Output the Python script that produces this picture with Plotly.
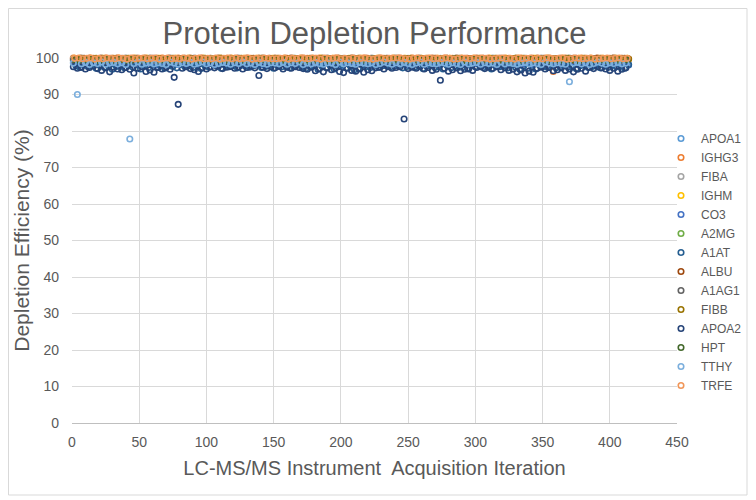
import plotly.graph_objects as go

# Acquisition iterations (each series sampled every 3rd run, at different offsets)
ITER_A = list(range(1, 414, 3))
ITER_B = list(range(2, 415, 3))
ITER_C = list(range(3, 415, 3))

APOA1 = [98.7, 98.4, 98.9, 98.5, 99.0, 98.3, 98.8, 98.6, 99.1, 98.4,
         98.9, 98.5, 98.7, 99.0, 98.3, 98.8, 98.6, 98.4, 99.0, 98.7,
         98.5, 98.9, 98.3, 98.8, 98.6, 99.1, 98.4, 98.7, 98.9, 98.5,
         99.0, 98.6, 98.4, 98.8, 98.7, 98.3, 99.0, 98.5, 98.9, 98.6,
         98.4, 98.8, 99.1, 98.5, 98.7, 98.9, 98.3, 98.6, 99.0, 98.4,
         98.8, 98.5, 98.7, 99.0, 98.6, 98.3, 98.9, 98.4, 98.8, 98.7,
         99.1, 98.5, 98.6, 98.9, 98.4, 98.8, 98.7, 99.0, 98.3, 98.6,
         98.9, 98.4, 98.8, 98.5, 99.0, 98.7, 98.3, 98.9, 98.6, 98.4,
         98.8, 99.1, 98.5, 98.7, 98.4, 98.9, 98.6, 99.0, 98.3, 98.8,
         98.5, 98.7, 98.9, 98.4, 98.6, 99.0, 98.8, 98.3, 98.7, 98.5,
         98.9, 98.6, 98.4, 99.1, 98.7, 98.5, 98.8, 98.9, 98.3, 98.6,
         99.0, 98.4, 98.7, 98.8, 98.5, 98.9, 98.3, 98.6, 99.0, 98.7,
         98.4, 98.8, 98.5, 98.9, 98.6, 99.1, 98.4, 98.7, 98.8, 98.5,
         98.9, 98.6, 98.3, 98.8, 98.7, 99.0, 98.5, 98.6]

IGHG3 = [100.0, 99.8, 99.9, 99.7, 100.0, 99.9, 99.8, 99.9, 100.0, 99.7,
         99.9, 100.0, 99.8, 99.9, 99.7, 100.0, 99.9, 99.8, 100.0, 99.9,
         99.8, 99.9, 100.0, 99.7, 99.9, 99.8, 100.0, 99.9, 99.8, 100.0,
         99.7, 99.9, 100.0, 99.8, 99.9, 99.7, 100.0, 99.8, 99.9, 100.0,
         99.9, 99.8, 99.7, 100.0, 99.9, 99.8, 100.0, 99.9, 99.7, 99.8,
         100.0, 99.9, 99.8, 99.9, 100.0, 99.7, 99.8, 100.0, 99.9, 99.8,
         99.9, 100.0, 99.7, 99.9, 99.8, 100.0, 99.9, 99.7, 99.8, 100.0,
         99.8, 99.9, 100.0, 99.9, 99.7, 99.8, 100.0, 99.9, 99.8, 99.9,
         99.7, 100.0, 99.9, 99.8, 100.0, 99.9, 99.7, 99.8, 99.9, 100.0,
         99.9, 99.8, 100.0, 99.7, 99.9, 100.0, 99.8, 99.9, 99.7, 99.8,
         100.0, 99.9, 99.8, 100.0, 99.7, 99.9, 99.8, 100.0, 99.9, 99.8,
         99.9, 100.0, 99.7, 99.8, 99.9, 100.0, 99.8, 99.9, 100.0, 96.3,
         99.8, 99.9, 100.0, 99.7, 99.9, 99.8, 100.0, 99.9, 99.7, 99.8,
         100.0, 99.9, 99.8, 99.9, 100.0, 99.7, 99.9, 99.8]

FIBA = [99.8, 99.6, 100.0, 99.7, 99.9, 99.6, 99.8, 100.0, 99.7, 99.9,
        99.6, 99.8, 99.9, 100.0, 99.7, 99.6, 99.9, 99.8, 99.7, 100.0,
        99.9, 99.7, 99.6, 99.8, 100.0, 99.9, 99.7, 99.6, 99.8, 99.9,
        100.0, 99.8, 99.7, 99.6, 99.9, 99.8, 100.0, 99.7, 99.6, 99.9,
        99.7, 100.0, 99.8, 99.9, 99.6, 99.7, 99.9, 100.0, 99.8, 99.6,
        99.9, 99.7, 99.8, 99.6, 100.0, 99.9, 99.7, 99.8, 99.6, 99.9,
        99.8, 99.6, 99.9, 100.0, 99.7, 99.8, 99.6, 99.9, 99.7, 100.0,
        99.6, 99.9, 99.7, 99.8, 100.0, 99.6, 99.8, 99.7, 99.9, 99.6,
        100.0, 99.7, 99.8, 99.9, 99.6, 99.7, 100.0, 99.8, 99.6, 99.9,
        99.7, 99.9, 99.6, 99.8, 99.7, 100.0, 99.9, 99.6, 99.8, 99.7,
        99.9, 99.8, 99.7, 99.6, 100.0, 99.8, 99.9, 99.7, 99.6, 99.8,
        99.7, 99.6, 99.9, 99.8, 99.7, 99.9, 100.0, 99.6, 99.8, 99.7,
        99.6, 99.8, 99.7, 100.0, 99.9, 99.6, 99.7, 99.8, 99.9, 99.6,
        99.9, 99.7, 99.6, 99.8, 100.0, 99.7, 99.9, 99.8]

IGHM = [99.9, 99.7, 99.8, 99.6, 99.9, 99.8, 99.7, 99.9, 99.6, 99.8,
        99.7, 99.9, 99.8, 99.6, 99.7, 99.9, 99.8, 99.7, 99.9, 99.6,
        99.8, 99.9, 99.7, 99.8, 99.6, 99.9, 99.7, 99.8, 99.9, 99.7,
        99.6, 99.8, 99.9, 99.7, 99.8, 99.6, 99.9, 99.8, 99.7, 99.9,
        99.8, 99.7, 99.9, 99.6, 99.8, 99.9, 99.7, 99.8, 99.6, 99.9,
        99.7, 99.8, 99.9, 99.7, 99.6, 99.8, 99.9, 99.7, 99.8, 99.9,
        99.6, 99.9, 99.7, 99.8, 99.9, 99.7, 99.6, 99.8, 99.9, 99.7,
        99.8, 99.9, 99.6, 99.7, 99.8, 99.9, 99.7, 99.8, 99.6, 99.9,
        99.7, 99.8, 99.9, 99.6, 99.8, 99.7, 99.9, 99.8, 99.7, 99.6,
        99.9, 99.8, 99.7, 99.9, 99.6, 99.8, 99.9, 99.7, 99.8, 99.9,
        99.7, 99.6, 99.8, 99.9, 99.7, 99.8, 99.6, 99.9, 99.7, 99.8,
        99.9, 99.7, 99.8, 99.6, 99.9, 99.8, 99.7, 99.9, 99.6, 99.8,
        99.7, 99.9, 99.8, 99.7, 99.6, 99.9, 99.8, 99.7, 99.9, 99.8,
        99.6, 99.9, 99.7, 99.8, 99.9, 99.7, 99.8, 99.9]

CO3 = [98.4, 98.1, 98.6, 97.9, 98.3, 98.7, 98.0, 98.5, 98.2, 98.8,
       98.3, 97.8, 98.6, 98.1, 98.4, 98.7, 98.0, 98.5, 98.2, 98.9,
       98.1, 98.6, 98.3, 97.9, 98.5, 98.2, 98.7, 98.0, 98.4, 98.6,
       98.2, 98.8, 98.0, 98.5, 98.3, 97.9, 98.6, 98.1, 98.4, 98.7,
       98.5, 98.0, 98.3, 98.8, 98.1, 98.6, 98.2, 97.9, 98.4, 98.7,
       98.0, 98.5, 98.2, 98.6, 97.8, 98.3, 98.7, 98.1, 98.4, 98.0,
       98.6, 98.2, 98.8, 98.0, 98.5, 98.3, 97.9, 98.6, 98.1, 98.4,
       98.7, 98.0, 98.5, 98.2, 98.8, 98.1, 98.4, 97.9, 98.6, 98.3,
       98.0, 98.5, 98.2, 98.7, 98.4, 98.1, 98.6, 97.8, 98.3, 98.5,
       98.2, 98.7, 98.0, 98.4, 98.6, 98.1, 98.8, 98.3, 97.9, 98.5,
       98.4, 98.0, 98.6, 98.2, 98.7, 97.9, 98.3, 98.5, 98.1, 98.6,
       98.0, 98.4, 98.7, 98.2, 98.5, 98.1, 98.8, 97.9, 98.3, 98.6,
       98.2, 98.5, 98.0, 98.7, 98.3, 98.1, 98.6, 98.4, 97.9, 98.5,
       98.7, 98.2, 98.4, 98.0, 98.6, 98.3, 98.5, 98.1]

A2MG = [99.5, 99.7, 99.4, 99.8, 99.6, 99.3, 99.7, 99.5, 99.8, 99.6,
        99.4, 99.7, 99.5, 99.8, 99.3, 99.6, 99.7, 99.4, 99.8, 99.5,
        99.6, 99.3, 99.7, 99.5, 99.8, 99.4, 99.6, 99.7, 99.3, 99.8,
        99.5, 99.6, 99.4, 99.7, 99.8, 99.5, 99.3, 99.6, 99.7, 99.4,
        99.8, 99.5, 99.6, 99.3, 99.7, 99.4, 99.8, 99.5, 99.6, 99.7,
        99.3, 99.8, 99.5, 99.4, 99.6, 99.7, 99.5, 99.8, 99.3, 99.6,
        99.4, 99.7, 99.6, 99.5, 99.8, 99.3, 99.7, 99.4, 99.6, 99.5,
        99.8, 99.6, 99.3, 99.7, 99.5, 99.4, 99.8, 99.6, 99.7, 99.3,
        99.5, 99.8, 99.4, 99.6, 99.7, 99.5, 99.3, 99.8, 99.6, 99.4,
        99.7, 99.5, 99.8, 99.3, 99.6, 99.7, 99.4, 99.5, 99.8, 99.6,
        99.3, 99.7, 99.5, 99.6, 99.4, 99.8, 99.7, 99.3, 99.5, 99.6,
        99.8, 99.4, 99.6, 99.7, 99.5, 99.3, 99.8, 99.6, 99.4, 99.7,
        99.5, 99.6, 99.8, 99.3, 99.7, 99.5, 99.4, 99.6, 99.8, 99.7,
        99.3, 99.5, 99.7, 99.6, 99.4, 99.8, 99.5, 99.6]

A1AT = [97.8, 97.4, 98.1, 97.6, 98.3, 97.2, 97.9, 97.5, 98.0, 96.9,
        97.7, 98.2, 97.3, 97.9, 97.6, 98.1, 97.0, 97.8, 97.4, 98.3,
        97.5, 97.9, 97.2, 98.0, 97.7, 97.3, 98.2, 97.6, 97.9, 97.4,
        98.1, 97.1, 97.8, 97.5, 98.3, 97.7, 97.2, 98.0, 97.6, 97.9,
        97.3, 98.2, 97.8, 97.5, 97.9, 98.1, 97.4, 97.7, 98.3, 97.2,
        97.9, 97.6, 98.0, 97.3, 97.8, 98.2, 97.5, 97.1, 97.7, 98.0,
        96.9, 97.8, 97.4, 98.1, 97.0, 97.6, 98.2, 97.3, 97.9, 96.8,
        97.2, 98.0, 97.7, 97.4, 98.1, 97.5, 97.9, 98.3, 97.6, 97.8,
        98.0, 97.3, 97.7, 98.2, 97.5, 97.9, 97.1, 97.8, 98.1, 97.4,
        97.6, 97.0, 98.0, 97.3, 97.8, 97.5, 98.2, 97.2, 97.9, 97.6,
        98.1, 97.4, 97.8, 97.0, 98.0, 97.6, 97.9, 97.3, 98.2, 97.5,
        96.9, 97.8, 97.2, 97.6, 97.0, 98.1, 97.7, 97.4, 98.0, 97.3,
        97.6, 98.1, 97.5, 97.8, 97.1, 97.9, 98.2, 97.4, 97.7, 98.0,
        97.3, 97.8, 97.5, 98.1, 97.6, 97.9, 97.2, 98.2]

ALBU = [99.8, 99.6, 99.9, 99.7, 99.8, 99.5, 99.9, 99.7, 99.6, 99.8,
        99.9, 99.7, 99.6, 99.8, 99.5, 99.9, 99.7, 99.8, 99.6, 99.9,
        99.7, 99.8, 99.5, 99.9, 99.6, 99.8, 99.7, 99.9, 99.5, 99.8,
        99.6, 99.9, 99.7, 99.8, 99.6, 99.5, 99.9, 99.7, 99.8, 99.6,
        99.9, 99.8, 99.7, 99.5, 99.9, 99.6, 99.8, 99.7, 99.9, 99.6,
        99.8, 99.5, 99.9, 99.7, 99.6, 99.8, 99.9, 99.7, 99.5, 99.8,
        99.7, 99.9, 99.6, 99.8, 99.5, 99.9, 99.7, 99.6, 99.8, 99.9,
        99.6, 99.8, 99.9, 99.5, 99.7, 99.8, 99.6, 99.9, 99.7, 99.8,
        99.9, 99.5, 99.8, 99.7, 99.6, 99.9, 99.8, 99.5, 99.7, 99.9,
        99.8, 99.6, 99.9, 99.7, 99.8, 99.5, 99.6, 99.9, 99.8, 99.7,
        99.6, 99.9, 99.8, 99.5, 99.7, 99.9, 99.6, 99.8, 99.7, 99.9,
        99.5, 99.8, 99.7, 99.9, 99.6, 99.8, 99.9, 99.5, 99.7, 99.8,
        99.9, 99.7, 99.6, 99.8, 99.9, 99.5, 99.7, 99.8, 99.6, 99.9,
        99.8, 99.7, 99.5, 99.9, 99.6, 99.8, 99.9, 99.7]

A1AG1 = [99.4, 99.6, 99.3, 99.7, 99.5, 99.8, 99.4, 99.6, 99.2, 99.7,
         99.5, 99.3, 99.8, 99.6, 99.4, 99.7, 99.5, 99.2, 99.6, 99.8,
         99.3, 99.7, 99.5, 99.4, 99.8, 99.6, 99.2, 99.7, 99.5, 99.3,
         99.6, 99.8, 99.4, 99.7, 99.2, 99.5, 99.6, 99.8, 99.3, 99.7,
         99.4, 99.6, 99.5, 99.8, 99.3, 99.7, 99.2, 99.6, 99.4, 99.5,
         99.8, 99.3, 99.7, 99.6, 99.4, 99.5, 99.8, 99.2, 99.7, 99.6,
         99.3, 99.5, 99.8, 99.4, 99.7, 99.6, 99.2, 99.5, 99.8, 99.3,
         99.7, 99.4, 99.6, 99.5, 99.8, 99.2, 99.7, 99.4, 99.6, 99.3,
         99.5, 99.8, 99.6, 99.3, 99.7, 99.4, 99.5, 99.8, 99.2, 99.6,
         99.7, 99.3, 99.5, 99.8, 99.4, 99.6, 99.7, 99.2, 99.5, 99.8,
         99.3, 99.6, 99.4, 99.7, 99.8, 99.5, 99.3, 99.6, 99.7, 99.2,
         99.8, 99.5, 99.4, 99.6, 99.3, 99.7, 99.8, 99.5, 99.2, 99.6,
         99.4, 99.7, 99.5, 99.8, 99.3, 99.6, 99.4, 99.7, 99.5, 99.8,
         99.2, 99.6, 99.7, 99.4, 99.5, 99.8, 99.3, 99.6]

FIBB = [99.7, 99.9, 99.6, 99.8, 99.7, 99.9, 99.5, 99.8, 99.6, 99.9,
        99.8, 99.6, 99.7, 99.9, 99.8, 99.5, 99.7, 99.9, 99.6, 99.8,
        99.9, 99.7, 99.8, 99.6, 99.9, 99.7, 99.5, 99.8, 99.9, 99.6,
        99.8, 99.7, 99.9, 99.5, 99.6, 99.8, 99.9, 99.7, 99.6, 99.8,
        99.7, 99.9, 99.6, 99.8, 99.7, 99.5, 99.9, 99.8, 99.6, 99.7,
        99.9, 99.6, 99.8, 99.7, 99.9, 99.5, 99.8, 99.6, 99.9, 99.7,
        99.8, 99.9, 99.7, 99.6, 99.8, 99.9, 99.5, 99.7, 99.8, 99.6,
        99.9, 99.7, 99.8, 99.6, 99.5, 99.9, 99.8, 99.7, 99.6, 99.9,
        99.7, 99.8, 99.6, 99.9, 99.7, 99.5, 99.8, 99.9, 99.6, 99.7,
        99.8, 99.6, 99.9, 99.7, 99.8, 99.9, 99.5, 99.6, 99.8, 99.7,
        99.9, 99.8, 99.6, 99.7, 99.9, 99.5, 99.8, 99.7, 99.6, 99.9,
        99.7, 99.9, 99.8, 99.6, 99.7, 99.8, 99.5, 99.9, 99.7, 99.6,
        99.8, 99.7, 99.9, 99.6, 99.8, 99.5, 99.9, 99.7, 99.8, 99.6,
        99.9, 99.8, 99.6, 99.7, 99.9, 99.8, 99.5, 99.7]

APOA2 = [97.6, 97.2, 97.5, 97.0, 97.4, 97.8, 97.1, 96.6, 97.3, 96.2,
         97.5, 97.0, 96.8, 97.4, 96.9, 95.9, 97.2, 97.6, 96.3, 96.7,
         96.1, 97.4, 97.0, 97.5, 96.9, 94.7, 87.3, 97.2, 97.6, 97.1,
         96.8, 96.3, 97.4, 97.0, 97.6, 97.3, 97.8, 97.1, 97.5, 97.7,
         97.2, 97.6, 97.0, 97.4, 97.8, 97.3, 95.2, 97.5, 97.1, 97.6,
         97.3, 97.7, 97.0, 97.5, 97.2, 97.6, 97.4, 97.1, 96.9, 97.5,
         96.5, 97.1, 96.2, 97.3, 96.8, 97.4, 96.3, 96.0, 97.2, 96.6,
         96.4, 97.0, 96.1, 96.8, 96.5, 97.3, 97.5, 97.0, 97.6, 97.2,
         97.4, 97.6, 83.3, 97.1, 97.5, 97.2, 97.7, 97.0, 97.4, 96.6,
         96.9, 93.9, 97.2, 96.4, 96.8, 97.3, 96.5, 96.9, 97.0, 96.6,
         97.4, 97.6, 97.1, 97.5, 97.2, 97.6, 96.8, 97.3, 96.6, 96.9,
         96.2, 96.7, 95.9, 96.4, 96.1, 97.2, 97.5, 97.0, 97.4, 96.5,
         96.8, 97.3, 96.6, 97.0, 96.2, 96.9, 97.2, 96.4, 97.5, 97.1,
         97.6, 97.3, 97.0, 96.6, 97.2, 96.4, 96.9, 97.3]

HPT = [99.6, 99.4, 99.7, 99.5, 99.8, 99.6, 99.3, 99.7, 99.5, 99.8,
       99.4, 99.6, 99.7, 99.3, 99.5, 99.8, 99.6, 99.4, 99.7, 99.5,
       99.8, 99.3, 99.6, 99.7, 99.4, 99.5, 99.8, 99.6, 99.3, 99.7,
       99.5, 99.4, 99.8, 99.6, 99.7, 99.3, 99.5, 99.8, 99.4, 99.6,
       99.7, 99.5, 99.3, 99.8, 99.6, 99.4, 99.7, 99.5, 99.8, 99.3,
       99.6, 99.7, 99.4, 99.5, 99.8, 99.6, 99.3, 99.7, 99.4, 99.5,
       99.8, 99.6, 99.7, 99.3, 99.5, 99.4, 99.8, 99.6, 99.7, 99.5,
       99.3, 99.8, 99.4, 99.6, 99.7, 99.5, 99.3, 99.8, 99.6, 99.4,
       99.7, 99.5, 99.8, 99.3, 99.6, 99.7, 99.4, 99.5, 99.8, 99.6,
       99.3, 99.7, 99.5, 99.4, 99.8, 99.6, 99.7, 99.3, 99.5, 99.8,
       99.4, 99.6, 99.7, 99.5, 99.3, 99.8, 99.6, 99.4, 99.7, 99.5,
       99.8, 99.3, 99.6, 99.7, 99.4, 99.5, 99.8, 99.6, 99.3, 99.7,
       99.5, 99.4, 99.8, 99.6, 99.7, 99.3, 99.5, 99.8, 99.4, 99.6,
       99.7, 99.5, 99.3, 99.8, 99.6, 99.4, 99.7, 99.5]

TTHY = [98.6, 90.0, 98.4, 98.8, 98.2, 98.7, 98.5, 98.9, 98.3, 98.6,
        98.8, 98.4, 98.7, 98.2, 77.8, 98.5, 98.9, 98.3, 98.6, 98.8,
        98.4, 98.7, 98.5, 98.2, 98.9, 98.6, 98.3, 98.7, 98.5, 98.8,
        98.3, 98.6, 98.9, 98.4, 98.7, 98.2, 98.5, 98.8, 98.6, 98.3,
        98.7, 98.5, 98.9, 98.4, 98.6, 98.2, 98.8, 98.5, 98.3, 98.7,
        98.6, 98.4, 98.8, 98.3, 98.7, 98.5, 98.9, 98.2, 98.6, 98.4,
        98.8, 98.5, 98.3, 98.7, 98.6, 98.2, 98.9, 98.4, 98.7, 98.5,
        98.3, 98.8, 98.6, 98.4, 98.7, 98.2, 98.5, 98.9, 98.6, 98.3,
        98.7, 98.4, 98.8, 98.5, 98.2, 98.6, 98.9, 98.3, 98.7, 98.5,
        98.4, 98.8, 98.6, 98.3, 98.7, 98.5, 98.2, 98.9, 98.4, 98.6,
        98.8, 98.3, 98.7, 98.5, 98.6, 98.2, 98.9, 98.4, 98.7, 98.5,
        98.3, 98.6, 98.8, 98.4, 98.7, 98.5, 98.2, 98.9, 98.6, 98.4,
        98.7, 98.5, 98.3, 93.5, 98.6, 98.8, 98.4, 98.7, 98.2, 98.5,
        98.9, 98.6, 98.3, 98.7, 98.5, 98.8, 98.4, 98.6]

TRFE = [99.9, 100.0, 99.8, 99.9, 100.0, 99.7, 99.9, 99.8, 100.0, 99.9,
        99.8, 100.0, 99.9, 99.7, 100.0, 99.8, 99.9, 100.0, 99.8, 99.9,
        100.0, 99.7, 99.9, 100.0, 99.8, 99.9, 99.8, 100.0, 99.9, 99.7,
        99.9, 100.0, 99.8, 99.9, 99.8, 100.0, 99.7, 99.9, 100.0, 99.8,
        100.0, 99.8, 99.9, 100.0, 99.7, 99.9, 99.8, 100.0, 99.9, 99.8,
        99.8, 99.9, 100.0, 99.7, 99.9, 99.8, 100.0, 99.9, 99.8, 100.0,
        99.9, 99.7, 100.0, 99.8, 99.9, 100.0, 99.8, 99.9, 99.7, 100.0,
        99.8, 99.9, 100.0, 99.8, 99.7, 99.9, 100.0, 99.8, 99.9, 100.0,
        100.0, 99.9, 99.8, 99.7, 99.9, 100.0, 99.8, 99.9, 100.0, 99.8,
        99.9, 99.8, 100.0, 99.9, 99.7, 99.8, 100.0, 99.9, 99.8, 100.0,
        99.8, 100.0, 99.9, 99.7, 99.8, 99.9, 100.0, 99.8, 99.9, 99.7,
        100.0, 99.8, 99.9, 100.0, 99.7, 99.9, 99.8, 100.0, 99.9, 99.8,
        99.9, 100.0, 99.7, 99.8, 100.0, 99.9, 99.8, 99.9, 100.0, 99.7,
        99.8, 99.9, 100.0, 99.8, 99.9, 100.0, 99.8, 99.9]

SERIES = [
    ("APOA1", ITER_B, APOA1), ("IGHG3", ITER_A, IGHG3), ("FIBA", ITER_A, FIBA),
    ("IGHM", ITER_B, IGHM), ("CO3", ITER_C, CO3), ("A2MG", ITER_B, A2MG),
    ("A1AT", ITER_C, A1AT), ("ALBU", ITER_C, ALBU), ("A1AG1", ITER_A, A1AG1),
    ("FIBB", ITER_C, FIBB), ("APOA2", ITER_A, APOA2), ("HPT", ITER_B, HPT),
    ("TTHY", ITER_A, TTHY), ("TRFE", ITER_B, TRFE),
]
COLORS = ["#5B9BD5", "#ED7D31", "#A5A5A5", "#FFC000", "#4472C4", "#70AD47",
          "#255E91", "#9E480E", "#636363", "#997300", "#264478", "#43682B",
          "#7CAFDD", "#F1975A"]

FONT = "Liberation Sans, Arial, sans-serif"
TXT = "#595959"

fig = go.Figure()
for (name, xs, vals), col in zip(SERIES, COLORS):
    fig.add_trace(go.Scatter(
        x=xs, y=vals, name=name, mode="markers", cliponaxis=False,
        marker=dict(symbol="circle-open", size=5.5, color=col,
                    line=dict(width=1.6, color=col)),
    ))

# The page body adds an 8px margin, so the figure is laid out in page
# coordinates shifted by OFF.
OFF = 8
W, H = 756 - OFF, 500 - OFF
ML = 72 - OFF
MT = 58 - OFF
MR = W - (677 - OFF)
MB = H - (423 - OFF)
PW, PH = W - ML - MR, H - MT - MB


def px_x(p):  # page pixel -> paper x
    return (p - OFF - ML) / PW


def px_y(p):  # page pixel -> paper y
    return (H - MB - (p - OFF)) / PH


fig.update_layout(
    width=W, height=H,
    margin=dict(l=ML, r=MR, t=MT, b=MB, autoexpand=False),
    paper_bgcolor="white", plot_bgcolor="white",
    font=dict(family=FONT, color=TXT),
    title=dict(text="Protein Depletion Performance", x=0.5, xanchor="center",
               xref="paper", yref="container", y=1 - (33 - OFF) / H,
               yanchor="middle",
               font=dict(size=31, color=TXT, family=FONT)),
    xaxis=dict(range=[0, 450], dtick=50, tick0=0, showgrid=True,
               gridcolor="#D9D9D9", gridwidth=1, zeroline=False,
               showline=True, linecolor="#BFBFBF", linewidth=1,
               ticks="", ticklabelstandoff=6,
               tickfont=dict(size=14, color=TXT), automargin=False,
               title=dict(text="LC-MS/MS Instrument  Acquisition Iteration",
                          font=dict(size=20, color=TXT), standoff=12)),
    yaxis=dict(range=[0, 100], dtick=10, tick0=0, showgrid=True,
               gridcolor="#D9D9D9", gridwidth=1, zeroline=False,
               showline=False, ticks="", ticklabelstandoff=12, automargin=False,
               tickfont=dict(size=14, color=TXT),
               title=dict(text="Depletion Efficiency (%)",
                          font=dict(size=21, color=TXT), standoff=0)),
    legend=dict(x=px_x(661), xanchor="left", y=px_y(124), yanchor="top",
                font=dict(size=12, color=TXT), bgcolor="rgba(0,0,0,0)",
                itemwidth=30, tracegroupgap=0),
    showlegend=True,
    shapes=[dict(type="rect", xref="paper", yref="paper",
                 x0=px_x(OFF + 0.5), x1=px_x(747), y0=px_y(495),
                 y1=px_y(OFF + 0.5),
                 line=dict(color="#D9D9D9", width=1), fillcolor="rgba(0,0,0,0)",
                 layer="below")],
)

fig.write_html("out.html")
